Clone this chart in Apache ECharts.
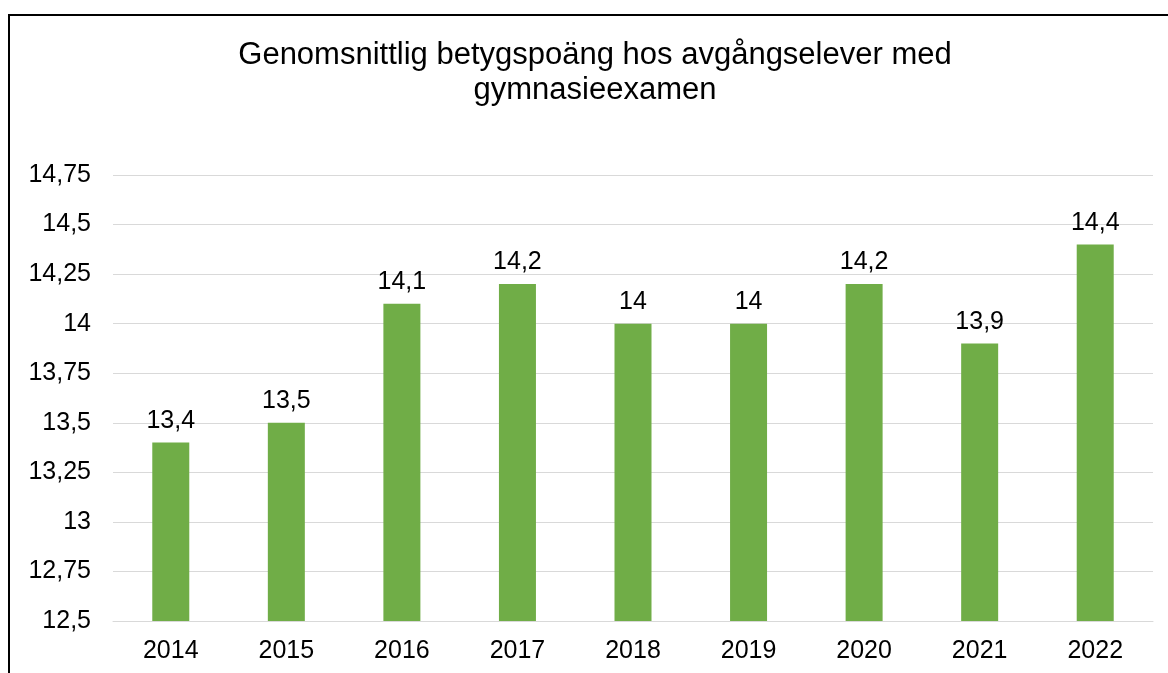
<!DOCTYPE html>
<html>
<head>
<meta charset="utf-8">
<script src="https://cdn.jsdelivr.net/npm/echarts@6/dist/echarts.min.js"></script>
<style>
  html, body { margin: 0; padding: 0; background: #fff; }
  #chart { width: 1168px; height: 673px; }
</style>
</head>
<body>
<div id="chart"></div>
<script>
var years = ['2014', '2015', '2016', '2017', '2018', '2019', '2020', '2021', '2022'];
var points = [13.4, 13.5, 14.1, 14.2, 14, 14, 14.2, 13.9, 14.4];
var titleText = 'Genomsnittlig betygspoäng hos avgångselever med\ngymnasieexamen';

var fmt = function (v) { return String(v).replace('.', ','); };

var chart = echarts.init(document.getElementById('chart'));
chart.setOption({
    backgroundColor: '#fff',
    animation: false,
    textStyle: { fontFamily: 'Liberation Sans, Arial, sans-serif' },
    title: {
        text: titleText,
        left: 595,
        textAlign: 'center',
        top: 38,
        padding: 0,
        textStyle: {
            fontSize: 31,
            fontWeight: 'normal',
            color: '#000',
            lineHeight: 35,
            fontFamily: 'Liberation Sans, Arial, sans-serif'
        }
    },
    // outer frame of the chart area
    graphic: [{
        type: 'polyline',
        shape: { points: [[9, 673], [9, 15], [1168, 15]] },
        style: { stroke: '#000', lineWidth: 2, fill: null }
    }],
    grid: { left: 113, right: 15, top: 175, bottom: 52 },
    xAxis: {
        type: 'category',
        data: years,
        axisTick: { show: false },
        axisLine: { show: true, lineStyle: { color: '#d9d9d9', width: 1 } },
        axisLabel: { color: '#000', fontSize: 25, margin: 18 }
    },
    yAxis: {
        type: 'value',
        min: 12.5,
        max: 14.75,
        interval: 0.25,
        axisLine: { show: false },
        axisTick: { show: false },
        splitLine: { lineStyle: { color: '#d9d9d9', width: 1 } },
        axisLabel: { color: '#000', fontSize: 25, margin: 22, formatter: fmt }
    },
    series: [{
        type: 'bar',
        data: points,
        barWidth: 37,
        itemStyle: { color: '#70ad47' },
        label: {
            show: true,
            position: 'top',
            distance: 9,
            color: '#000',
            fontSize: 25,
            formatter: function (p) { return fmt(p.value); }
        }
    }]
});
</script>
</body>
</html>
